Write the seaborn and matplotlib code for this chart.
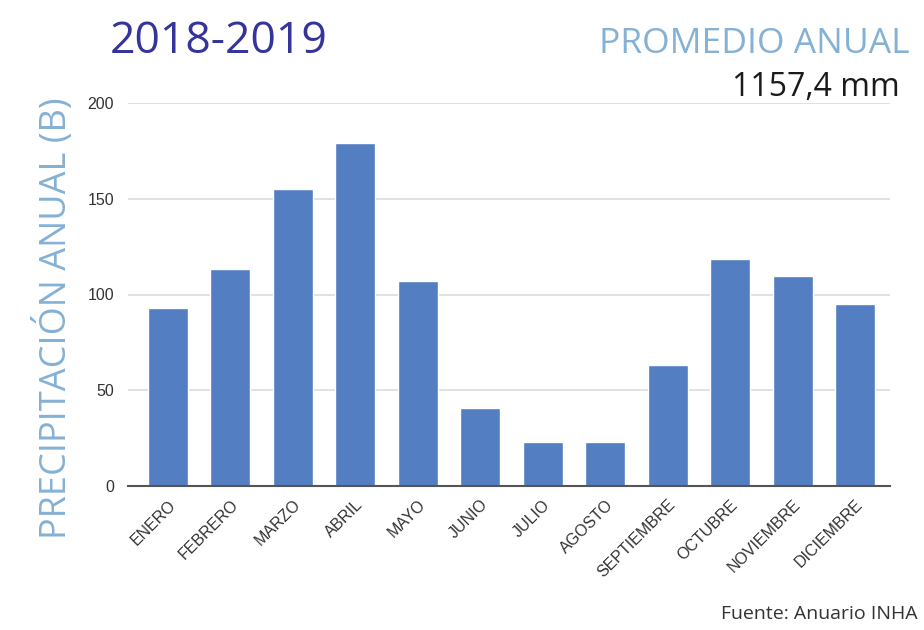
import matplotlib
matplotlib.use("Agg")
import matplotlib.pyplot as plt
import seaborn as sns
import pandas as pd

months = ["ENERO", "FEBRERO", "MARZO", "ABRIL", "MAYO", "JUNIO", "JULIO",
          "AGOSTO", "SEPTIEMBRE", "OCTUBRE", "NOVIEMBRE", "DICIEMBRE"]
precip = [93, 113.5, 155, 179, 107, 40.5, 23, 23, 63, 118.5, 109.5, 95]
yticks = [0, 50, 100, 150, 200]

df = pd.DataFrame({"mes": months, "mm": precip})

sns.set_theme(style="white")
plt.rcParams['font.family'] = ['Open Sans', 'DejaVu Sans']

fig = plt.figure(figsize=(9.24, 6.3), dpi=100)
ax = fig.add_axes([128/924, (630-486)/630, (890-128)/924, (486-103)/630])

sns.barplot(data=df, x="mes", y="mm", color="#537ec2", width=0.64,
            saturation=1, ax=ax, zorder=3)

ax.set_ylim(0, 200)
ax.set_xlim(-0.64, 11.56)
ax.set_yticks(yticks)
ax.grid(axis="y", color="#dcdcdc", linewidth=1.2, zorder=0)
ax.set_axisbelow(True)
for s in ["top", "right", "left"]:
    ax.spines[s].set_visible(False)
ax.spines["bottom"].set_color("#555555")
ax.spines["bottom"].set_linewidth(1.5)
ax.spines["bottom"].set_zorder(4)
ax.tick_params(axis="both", length=0)
ax.tick_params(axis="y", pad=10)
ax.set_xlabel("")
ax.set_ylabel("")

for lab in ax.get_yticklabels():
    lab.set_family(["Liberation Sans"])
    lab.set_fontsize(11.5)
    lab.set_color("#333333")
ax.set_xticks(range(len(months)))
ax.set_xticklabels(months, rotation=45, ha="right", rotation_mode="anchor",
                   family=["Liberation Sans"], fontsize=11.5, color="#333333")
ax.tick_params(axis="x", pad=8)

fig.text(55/924, 1 - 318/630, "PRECIPITACIÓN ANUAL (B)", rotation=90,
         ha="center", va="center", fontsize=26, color="#85b1d4")
fig.text(110/924, 1 - 42/630, "2018-2019", ha="left", va="center",
         fontsize=32, color="#35349a")
fig.text(910/924, 1 - 44/630, "PROMEDIO ANUAL", ha="right", va="center",
         fontsize=25.5, color="#85b1d4")
fig.text(900/924, 1 - 88/630, "1157,4 mm", ha="right", va="center",
         fontsize=23, color="#1a1a1a")
fig.text(918/924, 1 - 614/630, "Fuente: Anuario INHA", ha="right", va="center",
         fontsize=14, color="#333333")

fig.savefig("out.png", dpi=100)
